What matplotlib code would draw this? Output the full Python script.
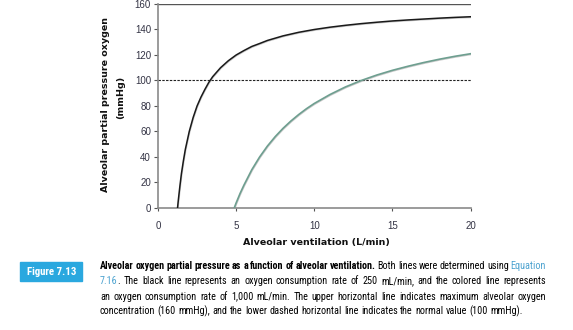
import matplotlib.pyplot as plt
import matplotlib.patheffects as pe

plt.rcParams['font.family'] = ['Liberation Sans', 'DejaVu Sans']

# ventilation (L/min) vs alveolar PO2 (mmHg)
v_250 = [1.25, 1.3, 1.4, 1.5, 1.625, 1.75, 1.875, 2, 2.25, 2.5, 2.75, 3, 3.25, 3.5, 3.75, 4, 4.5,
         5, 5.5, 6, 6.5, 7, 8, 9, 10, 11, 12, 13, 14, 15, 16, 17, 18, 19, 20]
p_250 = [0, 6, 17, 27, 37, 46, 53, 60, 71, 80, 87, 93, 98.5, 103, 106.5, 110, 115.5,
         120, 123.5, 126.7, 129, 131.4, 135, 137.8, 140, 141.8, 143.3, 144.6, 145.7, 146.7,
         147.5, 148.2, 148.9, 149.5, 150]
v_1000 = [4.875, 5, 5.25, 5.5, 5.75, 6, 6.5, 7, 7.5, 8, 8.5, 9, 9.5, 10, 11, 12, 13, 14, 15, 16,
          17, 18, 19, 20]
p_1000 = [0, 4, 11.4, 18, 24, 30, 40, 48.6, 56, 62.5, 68.2, 73.3, 77.9, 82, 89, 95, 100, 104.3,
          108, 111.2, 114.1, 116.7, 119, 121]
p_max = 160
p_normal = 100

xticks = [0, 5, 10, 15, 20]
yticks = list(range(0, 161, 20))

fig = plt.figure(figsize=(5.73, 3.30), dpi=100)
ax = fig.add_axes([0.2757, 0.3697, 0.5457, 0.6182])

shadow = [pe.SimpleLineShadow(offset=(0.3, -0.5), shadow_color='#888888', alpha=0.45), pe.Normal()]
ax.plot(v_250, p_250, color='#1a1a1a', lw=1.1, path_effects=shadow, zorder=3)
ax.plot(v_1000, p_1000, color='#6e9f90', lw=1.2, path_effects=shadow, zorder=3)
ax.plot([0, 20], [p_max, p_max], color='#555555', lw=1.0, zorder=2)
ax.plot([0, 20], [p_normal, p_normal], color='#222222', lw=0.8, ls=(0, (2.2, 1.2)), zorder=2)

ax.set_xlim(0, 20)
ax.set_ylim(0, 160)
ax.set_xticks(xticks)
ax.set_yticks(yticks)
for s in ['top', 'right']:
    ax.spines[s].set_visible(False)
for s in ['left', 'bottom']:
    ax.spines[s].set_color('#8a8a8a')
    ax.spines[s].set_linewidth(1.2)
ax.tick_params(axis='y', direction='out', length=3, color='#555555', labelsize=7,
               labelcolor='#333344', pad=2)
ax.tick_params(axis='x', direction='out', length=2.5, color='#555555', labelsize=7,
               labelcolor='#333344', pad=7)

# axis titles
lab = dict(fontsize=6.8, fontweight='bold', family=['DejaVu Sans'], color='#111111')
fig.text(316 / 573, 1 - 243 / 330, 'Alveolar ventilation (L/min)', ha='center', va='center', **lab)
fig.text(106 / 573, 1 - 104.5 / 330, 'Alveolar partial pressure oxygen', rotation=90,
         ha='center', va='center', **lab)
fig.text(121 / 573, 1 - 97 / 330, '(mmHg)', rotation=90, ha='center', va='center', **lab)

cap_font = ['Roboto Condensed', 'Archivo Narrow', 'Liberation Sans']

# caption block
fig.patches.append(plt.Rectangle((20 / 573, 1 - 281 / 330), 62 / 573, 19 / 330,
                                 transform=fig.transFigure, color='#2aa8df', zorder=0))
fig.text(52 / 573, 1 - 272 / 330, 'Figure 7.13', color='white', fontsize=7.8,
         fontweight='bold', ha='center', va='center', family=cap_font)

blue = '#4da3d0'
lines = [
    [('Alveolar oxygen partial pressure as a function of alveolar ventilation.', 'bold', 'black'),
     ('Both lines were determined using', 'normal', 'black'),
     ('Equation', 'normal', blue)],
    [('7.16', 'normal', blue),
     ('. The black line represents an oxygen consumption rate of 250 mL/min, and the colored line represents',
      'normal', 'black')],
    [('an oxygen consumption rate of 1,000 mL/min. The upper horizontal line indicates maximum alveolar oxygen',
      'normal', 'black')],
    [('concentration (160 mmHg), and the lower dashed horizontal line indicates the normal value (100 mmHg).',
      'normal', 'black')],
]
line_base = [269, 284.5, 299.5, 314]
x_left, x_right = 100, 546
min_space = 2.4
base_size = 8.5

renderer = fig.canvas.get_renderer()
rows = []
for segs, y in zip(lines, line_base):
    arts = []
    for text, weight, color in segs:
        for j, w in enumerate(text.split(' ')):
            glue = j == 0 and text.startswith('.')
            t = fig.text(0, 1 - y / 330, w, fontsize=base_size, fontweight=weight, color=color,
                         family=cap_font, ha='left', va='baseline')
            arts.append((t, glue))
    rows.append(arts)

# shrink the caption font until every line fits with a small word gap
need = 0
for arts in rows:
    w = sum(t.get_window_extent(renderer).width for t, _ in arts)
    gaps = sum(1 for _, g in arts[1:] if not g)
    need = max(need, (w + gaps * min_space) / (x_right - x_left))
size = base_size / max(need, 1.0)
for arts in rows:
    for t, _ in arts:
        t.set_fontsize(size)

for i, arts in enumerate(rows):
    widths = [t.get_window_extent(renderer).width for t, _ in arts]
    gaps = sum(1 for _, g in arts[1:] if not g)
    last = i == len(rows) - 1
    space = min_space if last else (x_right - x_left - sum(widths)) / gaps
    x = x_left
    for k, ((t, glue), wd) in enumerate(zip(arts, widths)):
        if k > 0 and not glue:
            x += space
        t.set_x(x / 573)
        x += wd

fig.savefig('out.png', dpi=100)
